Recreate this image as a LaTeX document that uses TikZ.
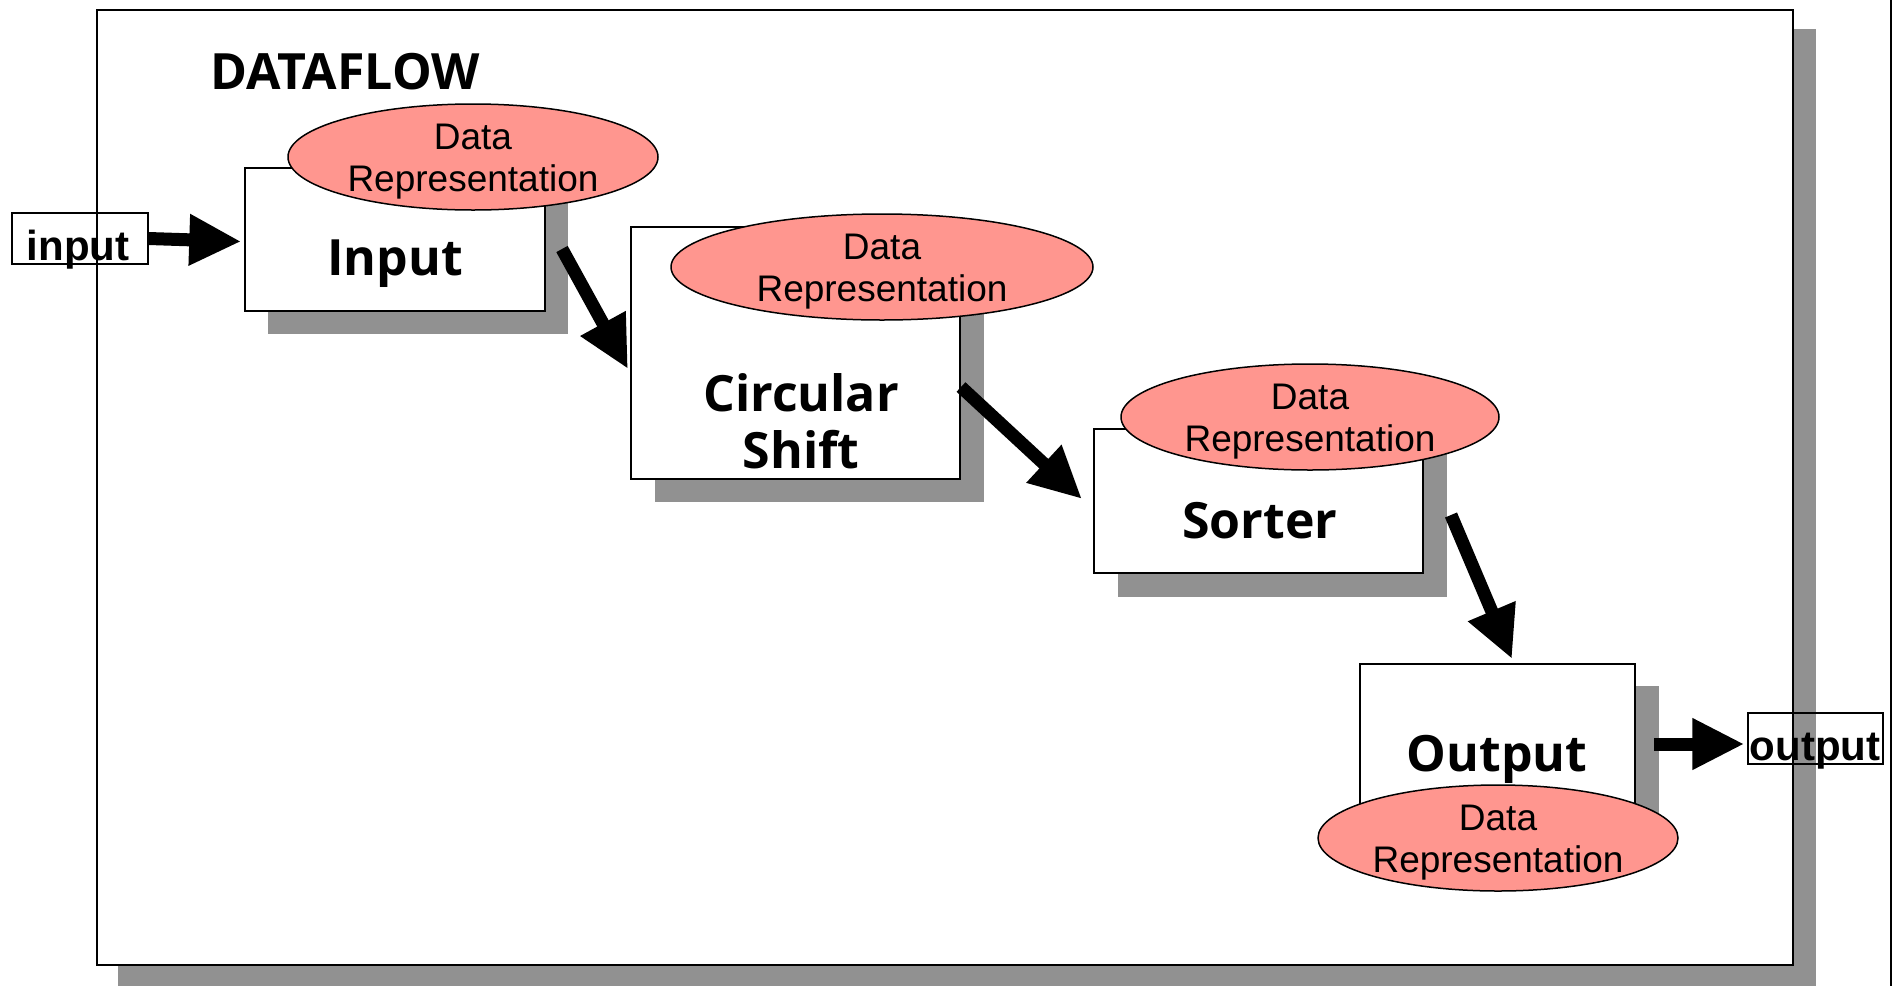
\documentclass[tikz,border=0pt]{standalone}
\usepackage{fontspec}
\setmainfont{Liberation Sans}
\newfontfamily\headfont{Open Sans}
\usetikzlibrary{shapes.geometric,arrows.meta,calc}
\definecolor{shadowgray}{RGB}{145,145,145}
\definecolor{salmon}{RGB}{255,150,143}
\begin{document}
\begin{tikzpicture}[x=1pt,y=-1pt,
 procbox/.style={draw=black,line width=1.5pt,fill=white,inner sep=0pt},
 boxshadow/.style={fill=shadowgray},
 datarep/.style={ellipse,draw=black,line width=1.5pt,fill=salmon,inner sep=0pt},
 datatext/.style={inner sep=0pt,align=center,font=\fontsize{37}{42}\selectfont},
 proclabel/.style={font=\headfont\bfseries\fontsize{50}{57}\selectfont,align=center,inner sep=0pt},
 iolabel/.style={draw=black,line width=1.2pt,inner sep=0pt},
 iotext/.style={font=\bfseries\fontsize{42}{42}\selectfont,inner sep=0pt,anchor=base},
 flow/.style={line width=13pt,-{Triangle[length=52pt,width=48pt]}}]
\useasboundingbox (0,0) rectangle (1896,986);
% outer frame
\node[procbox,minimum width=1696pt,minimum height=955pt] (frame) at (945,487.5) {};
\fill[boxshadow] ($(frame.north west)+(22,20)$) rectangle ($(frame.south east)+(22,20)$);
\node[procbox,minimum width=1696pt,minimum height=955pt] (frame2) at (945,487.5) {};
\draw[line width=2pt] (1891,0) -- (1891,986);
\node[font=\headfont\bfseries\fontsize{50}{57}\selectfont,inner sep=0pt] (title) at (345,72) {DATAFLOW};
% boxes
\coordinate (inbc) at (395,239.5);
\fill[boxshadow] ($(inbc)+(-150+23,-71.5+23)$) rectangle ($(inbc)+(150+23,71.5+23)$);
\node[procbox,minimum width=300pt,minimum height=143pt] (inb) at (inbc) {};
\coordinate (csc) at (795.5,353);
\fill[boxshadow] ($(csc)+(-164.5+24,-126+23)$) rectangle ($(csc)+(164.5+24,126+23)$);
\node[procbox,minimum width=329pt,minimum height=252pt] (cs) at (csc) {};
\coordinate (soc) at (1258.5,501);
\fill[boxshadow] ($(soc)+(-164.5+24,-72+24)$) rectangle ($(soc)+(164.5+24,72+24)$);
\node[procbox,minimum width=329pt,minimum height=144pt] (so) at (soc) {};
\coordinate (outc) at (1497.5,742);
\fill[boxshadow] ($(outc)+(-137.5+24,-78+22)$) rectangle ($(outc)+(137.5+24,78+22)$);
\node[procbox,minimum width=275pt,minimum height=156pt] (outb) at (outc) {};
% data representation ellipses
\node[datarep,minimum width=370pt,minimum height=106pt] (dr1) at (473,157) {};
\node[datarep,minimum width=422pt,minimum height=106pt] (dr2) at (882,267) {};
\node[datarep,minimum width=378pt,minimum height=106pt] (dr3) at (1310,417) {};
\node[datarep,minimum width=360pt,minimum height=106pt] (dr4) at (1498,838) {};
\node[datatext] (dr1t) at ($(dr1)+(0,5)$) {Data\\Representation};
\node[datatext] (dr2t) at ($(dr2)+(0,5)$) {Data\\Representation};
\node[datatext] (dr3t) at ($(dr3)+(0,5)$) {Data\\Representation};
\node[datatext] (dr4t) at ($(dr4)+(0,5)$) {Data\\Representation};
% process labels
\node[proclabel] (inl) at (395,264) {Input};
\node[proclabel] (csl) at (801,421) {Circular\\Shift};
\node[proclabel] (sol) at (1260,521) {Sorter};
\node[proclabel] (outl) at (1497,759) {Output};
% io labels
\node[iolabel,minimum width=136pt,minimum height=51pt] (inlab) at (80,238.5) {};
\node[iotext] (intext) at (78,260) {input};
\node[iolabel,minimum width=135pt,minimum height=51pt] (outlab) at (1815.5,738.5) {};
\node[iotext] (outtext) at (1815,760) {output};
% arrows
\coordinate (a2s) at (562,249);
\coordinate (a2e) at (628,369);
\coordinate (a3s) at (961,387);
\coordinate (a3e) at (1082,499);
\coordinate (a4s) at (1451,515);
\coordinate (a4e) at (1512,659);
\coordinate (a5s) at (1654,744);
\draw[flow] (inlab.east) -- ($(inb.west)+(-3,2)$);
\draw[flow] (a2s) -- (a2e);
\draw[flow] (a3s) -- (a3e);
\draw[flow] (a4s) -- (a4e);
\draw[flow] (a5s) -- ($(outlab.west)+(-3,5.5)$);
\end{tikzpicture}
\end{document}
